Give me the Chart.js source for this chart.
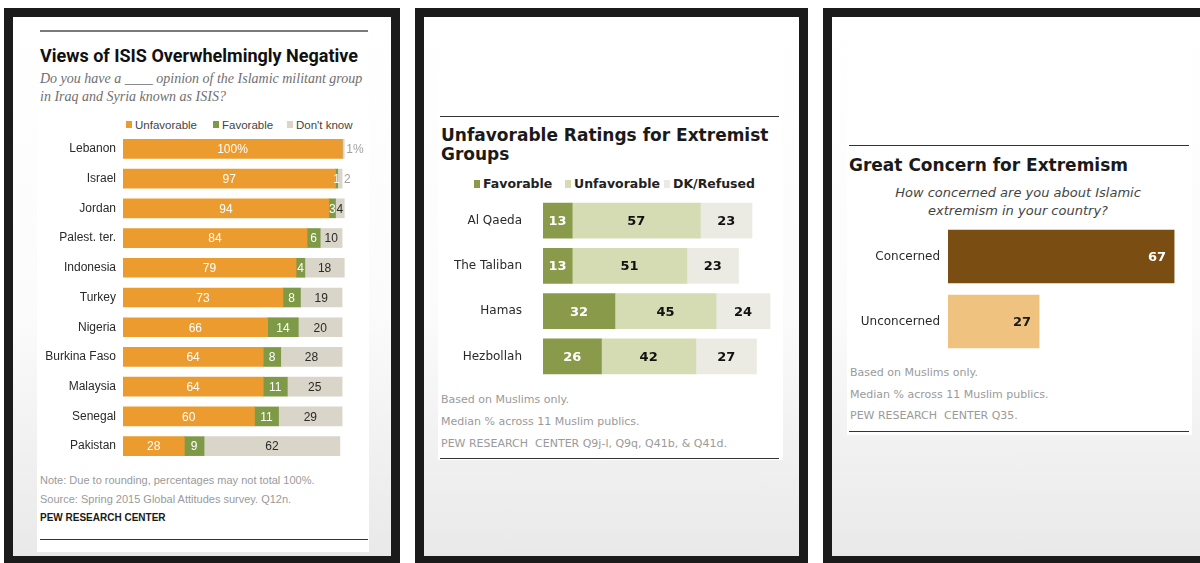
<!DOCTYPE html>
<html>
<head>
<meta charset="utf-8">
<script src="https://cdn.jsdelivr.net/npm/chart.js@4.4.1/dist/chart.umd.min.js"></script>
<style>
  body { margin: 0; width: 1200px; height: 563px; overflow: hidden; background: #fff; position: relative; }
  .frame { position: absolute; box-sizing: border-box; border: 9px solid #1b1b1b; background: linear-gradient(#ffffff 0%, #fbfbfb 55%, #e9e9e9 100%); }
  .card { position: absolute; background: #fff; }
  .abs { position: absolute; white-space: nowrap; }
  .rule { position: absolute; height: 0; }
  canvas { position: absolute; }
  .sq { display: inline-block; vertical-align: middle; }
</style>
</head>
<body>

<div class="frame" style="left:4px; top:8px; width:396px; height:557px;"></div>
<div class="frame" style="left:415px; top:8px; width:393px; height:557px;"></div>
<div class="frame" style="left:823px; top:8px; width:400px; height:557px;"></div>

<div class="card" style="left:37px; top:17px; width:332px; height:535px;"></div>
<div class="card" style="left:438px; top:17px; width:345px; height:443px;"></div>
<div class="card" style="left:847px; top:17px; width:345px; height:418px;"></div>

<!-- panel 1 -->
<div class="rule" style="left:40px; top:30px; width:328px; border-top:2px solid #7a7a7a;"></div>
<div class="abs" style="left:40px; top:46px; font:bold 18px 'Liberation Sans Narrow', Roboto, sans-serif; line-height:20px; color:#111;">Views of ISIS Overwhelmingly Negative</div>
<div class="abs" style="left:40px; top:70px; font:italic 14px 'Liberation Serif', serif; line-height:18px; color:#6f6f6f;">Do you have a ____ opinion of the Islamic militant group<br>in Iraq and Syria known as ISIS?</div>
<div id="legend1"></div>
<div class="abs" style="left:40px; top:471px; font:11px 'Liberation Sans', sans-serif; line-height:19px; color:#9a9a9a;">Note: Due to rounding, percentages may not total 100%.<br>Source: Spring 2015 Global Attitudes survey. Q12n.</div>
<div class="abs" style="left:40px; top:511px; font:bold 10px 'Liberation Sans', sans-serif; line-height:14px; color:#1a1a1a;">PEW RESEARCH CENTER</div>
<div class="rule" style="left:40px; top:539px; width:328px; border-top:1.5px solid #333;"></div>
<canvas id="isisChart" width="324" height="327" style="left:40px; top:134px;"></canvas>

<!-- panel 2 -->
<div class="rule" style="left:440px; top:116px; width:339px; border-top:1.5px solid #333;"></div>
<div class="abs" style="left:441px; top:126px; font:bold 17px 'DejaVu Sans', sans-serif; line-height:19px; color:#1a1a1a;">Unfavorable Ratings for Extremist<br>Groups</div>
<div id="legend2"></div>
<canvas id="groupsChart" width="339" height="181" style="left:440px; top:198px;"></canvas>
<div class="abs" style="left:441px; top:389px; font:11px 'DejaVu Sans', sans-serif; line-height:22px; color:#9a9a9a;">Based on Muslims only.<br>Median % across 11 Muslim publics.<br>PEW RESEARCH&nbsp; CENTER Q9j-l, Q9q, Q41b, &amp; Q41d.</div>
<div class="rule" style="left:440px; top:458px; width:339px; border-top:1.5px solid #333;"></div>

<!-- panel 3 -->
<div class="rule" style="left:849px; top:145px; width:340px; border-top:1.5px solid #333;"></div>
<div class="abs" style="left:849px; top:155px; font:bold 17px 'DejaVu Sans', sans-serif; line-height:20px; color:#1a1a1a;">Great Concern for Extremism</div>
<div class="abs" style="left:868px; width:300px; top:184px; text-align:center; font:oblique 13px 'DejaVu Sans', sans-serif; line-height:18px; color:#444;">How concerned are you about Islamic<br>extremism in your country?</div>
<canvas id="concernChart" width="342" height="130" style="left:849px; top:224px;"></canvas>
<div class="abs" style="left:850px; top:362px; font:11px 'DejaVu Sans', sans-serif; line-height:21.5px; color:#9a9a9a;">Based on Muslims only.<br>Median % across 11 Muslim publics.<br>PEW RESEARCH&nbsp; CENTER Q35.</div>
<div class="rule" style="left:849px; top:431px; width:340px; border-top:1.5px solid #333;"></div>

<script>
// ISIS views by country
const isisCountries = ['Lebanon', 'Israel', 'Jordan', 'Palest. ter.', 'Indonesia', 'Turkey', 'Nigeria', 'Burkina Faso', 'Malaysia', 'Senegal', 'Pakistan'];
const isisUnfavorable = [100, 97, 94, 84, 79, 73, 66, 64, 64, 60, 28];
const isisFavorable = [0, 1, 3, 6, 4, 8, 14, 8, 11, 11, 9];
const isisDontKnow = [1, 2, 4, 10, 18, 19, 20, 28, 25, 29, 62];
const isisSeries = ['Unfavorable', 'Favorable', "Don't know"];

// extremist groups (median across 11 publics)
const groups = ['Al Qaeda', 'The Taliban', 'Hamas', 'Hezbollah'];
const groupFavorable = [13, 13, 32, 26];
const groupUnfavorable = [57, 51, 45, 42];
const groupRefused = [23, 23, 24, 27];
const groupSeries = ['Favorable', 'Unfavorable', 'DK/Refused'];

// concern about extremism
const concernLabels = ['Concerned', 'Unconcerned'];
const concernValues = [67, 27];

const isisColors = ['#ec9c2e', '#7e9a47', '#d9d5c8'];
const groupColors = ['#8a9a4b', '#d5dbb2', '#ecebe3'];
const concernColors = ['#7a4e12', '#efc27f'];

// legends as plain html
function makeLegend(id, names, colors, lefts, top, font, color, sq) {
  const el = document.getElementById(id);
  names.forEach((n, i) => {
    const s = document.createElement('div');
    s.className = 'abs';
    s.style.left = lefts[i] + 'px';
    s.style.top = top + 'px';
    s.style.font = font;
    s.style.color = color;
    s.style.lineHeight = '14px';
    s.innerHTML = `<span class="sq" style="width:${sq[0]}px;height:${sq[1]}px;background:${colors[i]};margin-right:3px;margin-top:-2px;"></span>${n}`;
    el.appendChild(s);
  });
}
makeLegend('legend1', isisSeries, isisColors, [126, 213, 287], 118, "11.5px 'Liberation Sans', sans-serif", '#444', [6, 7]);
makeLegend('legend2', groupSeries, groupColors, [474, 565, 664], 177, "bold 12.5px 'DejaVu Sans', sans-serif", '#222', [6, 8]);

// draws the numbers on the bars
const segmentLabels = {
  id: 'segmentLabels',
  afterDatasetsDraw(chart, args, opts) {
    const ctx = chart.ctx;
    ctx.save();
    ctx.font = opts.font;
    ctx.textBaseline = 'middle';
    chart.data.datasets.forEach((ds, i) => {
      chart.getDatasetMeta(i).data.forEach((bar, j) => {
        const v = ds.data[j];
        if (!v) return;
        const lab = opts.place(v, i, j, bar);
        if (!lab) return;
        ctx.fillStyle = lab.color;
        ctx.textAlign = lab.align || 'center';
        ctx.fillText(lab.text, lab.x, bar.y + 1);
      });
    });
    ctx.restore();
  }
};

function barOptions(max, axisWidth, pad, tickFont, labelOpts) {
  return {
    indexAxis: 'y',
    responsive: false,
    animation: false,
    layout: { padding: 0 },
    plugins: {
      legend: { display: false },
      tooltip: { enabled: false },
      segmentLabels: labelOpts
    },
    scales: {
      x: { stacked: true, display: false, min: 0, max: max },
      y: {
        stacked: true,
        grid: { display: false, drawTicks: false },
        border: { display: false },
        ticks: { padding: pad, color: '#2a2a2a', font: tickFont },
        afterFit(s) {
          // fixed label column, no extra space above/below the rows
          s.width = axisWidth;
          s.paddingTop = 0;
          s.paddingBottom = 0;
        }
      }
    }
  };
}

new Chart(document.getElementById('isisChart'), {
  type: 'bar',
  data: {
    labels: isisCountries,
    datasets: [isisUnfavorable, isisFavorable, isisDontKnow].map((d, i) => ({
      label: isisSeries[i], data: d, backgroundColor: isisColors[i], barThickness: 19
    }))
  },
  options: barOptions(110, 83, 7, { family: 'Liberation Sans', size: 12 }, {
    font: "12px 'Liberation Sans', sans-serif",
    place(v, i, j, bar) {
      const pct = j === 0 ? '%' : '';
      const mid = (bar.x + bar.base) / 2;
      if (i === 2) {
        if (v <= 2) return { text: v + pct, x: bar.x + 2, align: 'left', color: '#a0a0a0' };
        return { text: String(v), x: mid, color: '#2a2a2a' };
      }
      return { text: v + pct, x: mid, color: '#ffffff' };
    }
  }),
  plugins: [segmentLabels]
});

new Chart(document.getElementById('groupsChart'), {
  type: 'bar',
  data: {
    labels: groups,
    datasets: [groupFavorable, groupUnfavorable, groupRefused].map((d, i) => ({
      label: groupSeries[i], data: d, backgroundColor: groupColors[i], barThickness: 35
    }))
  },
  options: barOptions(105, 103, 21, { family: 'DejaVu Sans', size: 12 }, {
    font: "bold 13px 'DejaVu Sans', sans-serif",
    place(v, i, j, bar) {
      return { text: String(v), x: (bar.x + bar.base) / 2, color: i === 0 ? '#ffffff' : '#111111' };
    }
  }),
  plugins: [segmentLabels]
});

new Chart(document.getElementById('concernChart'), {
  type: 'bar',
  data: {
    labels: concernLabels,
    datasets: [{ label: 'Share', data: concernValues, backgroundColor: concernColors, barThickness: 53 }]
  },
  options: barOptions(72, 99, 8, { family: 'DejaVu Sans', size: 12 }, {
    font: "bold 13px 'DejaVu Sans', sans-serif",
    place(v, i, j, bar) {
      return { text: String(v), x: bar.x - 8, align: 'right', color: j === 0 ? '#ffffff' : '#1a1a1a' };
    }
  }),
  plugins: [segmentLabels]
});
</script>
</body>
</html>
